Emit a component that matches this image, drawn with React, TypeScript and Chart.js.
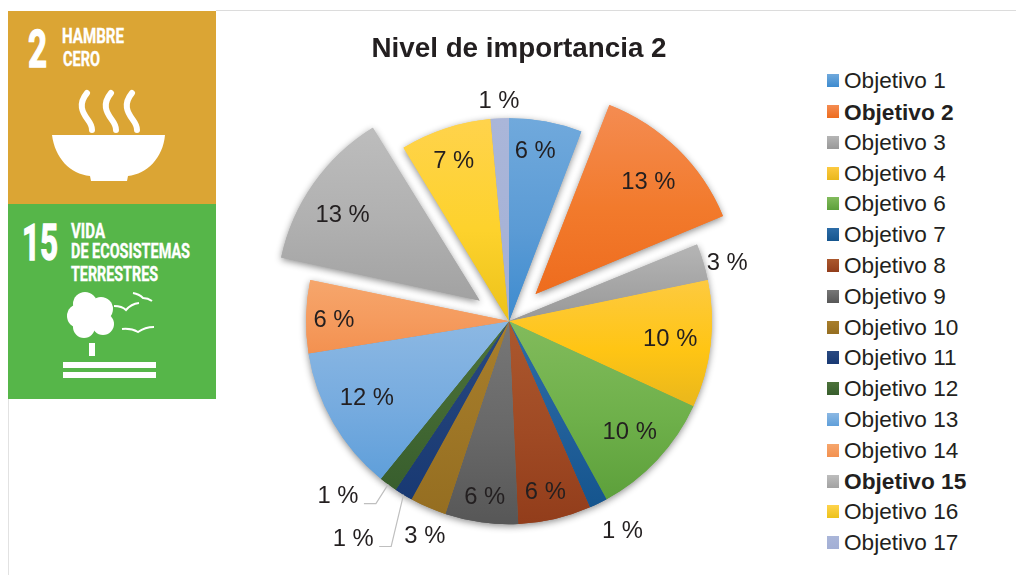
import React, { useEffect, useRef } from "react";
import { Chart, registerables } from "chart.js";

Chart.register(...registerables);

const chartTitle = "Nivel de importancia 2";
const categories = ["Objetivo 1", "Objetivo 2", "Objetivo 3", "Objetivo 4", "Objetivo 6", "Objetivo 7", "Objetivo 8", "Objetivo 9", "Objetivo 10", "Objetivo 11", "Objetivo 12", "Objetivo 13", "Objetivo 14", "Objetivo 15", "Objetivo 16", "Objetivo 17"];
const values = [4, 9, 2, 7, 7, 1, 4, 4, 2, 1, 1, 8, 4, 9, 5, 1];
const boldCategories = ["Objetivo 2", "Objetivo 15"];
const topColors = ["#70a9dc", "#f48c52", "#b5b5b5", "#fdca40", "#82bb5c", "#2c6ca7", "#ab582e", "#777777", "#a87e2c", "#2a4981", "#4c723a", "#8cb8e3", "#f6a66c", "#bdbdbd", "#ffd34c", "#aab6d9"];
const midColors = ["#5b9bd5", "#f27a2c", "#a5a5a5", "#ffc514", "#6eb04a", "#22609a", "#a04a24", "#686868", "#9e7626", "#204078", "#426833", "#76abdf", "#f59b5e", "#b0b0b0", "#fdd22c", "#a7b3d7"];
const bottomColors = ["#3d8bcf", "#ee6c1e", "#989898", "#e9b71c", "#5da03b", "#15558e", "#923d1b", "#575757", "#956e21", "#183973", "#385e2d", "#5f9fda", "#f39150", "#a2a2a2", "#ecc21a", "#a3afd5"];
const explodeDistances = [0, 38, 0, 0, 0, 0, 0, 0, 0, 0, 0, 0, 0, 36, 0, 0];
const labelRadii = [173, 160, 226, 162, 163, 238, 174, 176, 230, 267, 244, 161, 175, 162, 170, 221];
const labelAngleShifts = [-1.7, 0.5, 1.8, -0.7, -0.8, -2.4, 1, 0.1, -2, 4.4, 8, 2, -0.7, -3, -0.7, 0];

const TEXT = "#231f20";
const FONT = '"Liberation Sans", Arial, sans-serif';
const RADIUS = 203;

const pieDecor = {
  id: "pieDecor",
  afterLayout(chart: any) {
    chart.titleBlock.left += 10;
    chart.titleBlock.right += 10;
  },
  beforeDatasetDraw(chart: any) {
    const { ctx } = chart;
    const arcs = chart.getDatasetMeta(0).data;
    arcs.forEach((arc: any, i: number) => {
      const grow = explodeDistances[i] * (1 - Math.sin(Math.min(Math.PI, arc.circumference)));
      arc.outerRadius = RADIUS - grow;
      const r = RADIUS;
      const ys = [0, Math.sin(arc.startAngle) * r, Math.sin(arc.endAngle) * r];
      const has = (a: number) => {
        const two = Math.PI * 2;
        while (a < arc.startAngle) a += two;
        return a <= arc.endAngle;
      };
      if (has(Math.PI / 2)) ys.push(r);
      if (has(-Math.PI / 2)) ys.push(-r);
      const g = ctx.createLinearGradient(0, arc.y + Math.min(...ys), 0, arc.y + Math.max(...ys));
      g.addColorStop(0, topColors[i]);
      g.addColorStop(0.55, midColors[i]);
      g.addColorStop(1, bottomColors[i]);
      arc.options = { ...arc.options, backgroundColor: g };
    });
    ctx.save();
    ctx.shadowColor = "rgba(0,0,0,0.45)";
    ctx.shadowBlur = 7;
    ctx.shadowOffsetX = 0;
    ctx.shadowOffsetY = 2;
    arcs.forEach((arc: any) => arc.draw(ctx));
    ctx.restore();
  },
  afterDatasetsDraw(chart: any) {
    const { ctx } = chart;
    const arcs = chart.getDatasetMeta(0).data;
    const total = values.reduce((a, b) => a + b, 0);
    const at = (arc: any, i: number) => {
      const mid = (arc.startAngle + arc.endAngle) / 2;
      const ex = explodeDistances[i];
      const a = mid + (labelAngleShifts[i] * Math.PI) / 180;
      return {
        x: arc.x + Math.cos(mid) * ex + Math.cos(a) * labelRadii[i],
        y: arc.y + Math.sin(mid) * ex + Math.sin(a) * labelRadii[i] + 1.5,
        ex: arc.x + Math.cos(mid) * RADIUS,
        ey: arc.y + Math.sin(mid) * RADIUS,
      };
    };
    ctx.save();
    ctx.strokeStyle = "#bfbfbf";
    ctx.lineWidth = 1.2;
    [9, 10].forEach((i) => {
      const p = at(arcs[i], i);
      const y = p.y + 7;
      const textRight = p.x + 26;
      ctx.beginPath();
      ctx.moveTo(p.ex, p.ey);
      ctx.lineTo(textRight + 12, y);
      ctx.lineTo(textRight, y);
      ctx.stroke();
    });
    ctx.fillStyle = TEXT;
    ctx.font = `23.8px ${FONT}`;
    ctx.textAlign = "center";
    ctx.textBaseline = "middle";
    arcs.forEach((arc: any, i: number) => {
      const p = at(arc, i);
      ctx.fillText(`${Math.round((values[i] / total) * 100)} %`, p.x, p.y);
    });
    ctx.restore();
  },
};

function Panel() {
  const cond = '"Liberation Sans Narrow", "Roboto", sans-serif';
  const t = (s: string, x: number, base: number, w: number, size: number, bold = 0.4) => (
    <text x={x} y={base} fontFamily={cond} fontWeight={700} fontSize={size} fill="#fff" stroke="#fff" strokeWidth={bold} textLength={w} lengthAdjust="spacingAndGlyphs">{s}</text>
  );
  return (
    <svg width={208} height={388} viewBox="8 11 208 388" style={{ position: "absolute", left: 8, top: 11, display: "block" }}>
      <rect x={8} y={11} width={208} height={193} fill="#dba534" />
      <rect x={8} y={204} width={208} height={195} fill="#56b649" />
      {t("2", 28, 67, 19, 52, 1.4)}
      {t("HAMBRE", 62, 43, 62, 21)}
      {t("CERO", 63, 66, 37, 21)}
      <g fill="none" stroke="#fff" strokeWidth={6} strokeLinecap="round">
        <path d="M87 93 C78 104 82 112 88 120 C91 124 92 127 92 130" />
        <path d="M111 93 C102 104 106 112 112 120 C115 124 116 127 116 130" />
        <path d="M132 93 C123 104 127 112 133 120 C136 124 137 127 137 130" />
      </g>
      <path d="M52 135 L165 135 C163 158 147 174 128 176 L127 181 L91 181 L90 176 C70 174 55 158 52 135 Z" fill="#fff" />
      {t("15", 22, 260, 36, 50, 1.4)}
      {t("VIDA", 71, 238, 34, 20)}
      {t("DE ECOSISTEMAS", 71, 258, 119, 20)}
      {t("TERRESTRES", 71, 281, 87, 20)}
      <g fill="#fff">
        <circle cx={85} cy={304} r={12} />
        <circle cx={79} cy={316} r={12} />
        <circle cx={101} cy={309} r={12} />
        <circle cx={84} cy={327} r={11} />
        <circle cx={103} cy={324} r={11} />
        <circle cx={92} cy={316} r={10} />
        <rect x={89} y={343} width={6} height={13} />
        <rect x={63} y={362} width={93} height={6} />
        <rect x={63} y={372} width={93} height={6} />
      </g>
      <g fill="none" stroke="#fff" strokeWidth={2}>
        <path d="M114 306 Q122 306 126 310 Q131 304 139 303" />
        <path d="M133 293 Q139 294 143 298 Q148 298 152 301" />
        <path d="M122 329 Q131 328 138 332 Q145 327 154 327" />
      </g>
    </svg>
  );
}

export default function App() {
  const ref = useRef<HTMLCanvasElement>(null);
  useEffect(() => {
    const chart = new Chart(ref.current as HTMLCanvasElement, {
      type: "pie",
      data: {
        labels: categories,
        datasets: [{
          data: values,
          backgroundColor: midColors,
          borderWidth: 0,
          offset: explodeDistances.map((d) => d * 4),
        }],
      },
      options: {
        animation: false,
        responsive: false,
        radius: RADIUS,
        layout: { padding: { right: 20, bottom: 7.5 } },
        events: [],
        plugins: {
          legend: { display: false },
          tooltip: { enabled: false },
          title: {
            display: true,
            text: chartTitle,
            color: TEXT,
            font: { family: FONT, size: 27.8, weight: "bold", lineHeight: 1.2 },
            padding: { top: 32.5, bottom: 9 },
          },
        },
      },
      plugins: [pieDecor],
    } as any);
    return () => chart.destroy();
  }, []);
  return (
    <div style={{ position: "fixed", left: 0, top: 0, width: 1016, height: 575, background: "#fff", overflow: "hidden" }}>
      <div style={{ position: "absolute", left: 216, top: 10, right: 0, height: 1, background: "#dcdcdc" }} />
      <div style={{ position: "absolute", left: 8, top: 399, bottom: 0, width: 1, background: "#e2e2e2" }} />
      <Panel />
      <canvas ref={ref} width={598} height={575} style={{ position: "absolute", left: 220, top: 0, display: "block" }} />
      {categories.map((c, i) => (
        <div key={c} style={{ position: "absolute", left: 827, top: 81.2 + i * 30.8 - 15, height: 30, display: "flex", alignItems: "center", fontFamily: FONT, fontSize: boldCategories.includes(c) ? 22.7 : 22.6, color: TEXT, fontWeight: boldCategories.includes(c) ? 700 : 400, whiteSpace: "nowrap" }}>
          <span style={{ display: "inline-block", width: 12, height: 13, marginRight: 5, marginTop: -1, background: `linear-gradient(${topColors[i]}, ${bottomColors[i]})` }} />
          {c}
        </div>
      ))}
    </div>
  );
}
